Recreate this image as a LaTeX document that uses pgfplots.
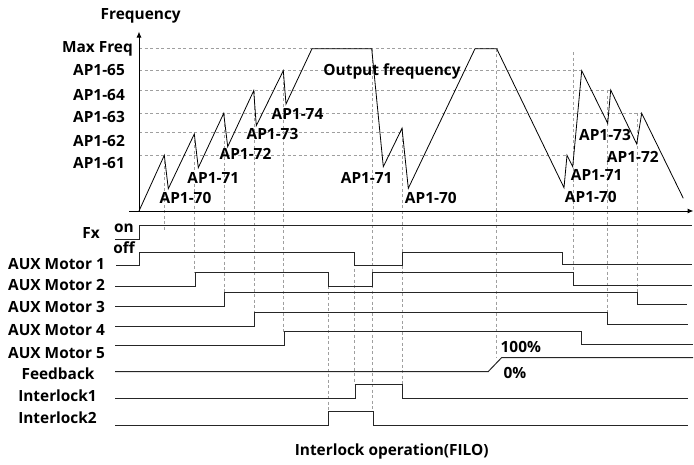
\documentclass[border=0pt]{standalone}
\usepackage{pgfplots}
\pgfplotsset{compat=1.18}
\usepackage{fontspec}
\setmainfont{Open Sans}
\usetikzlibrary{arrows.meta}

\tikzset{
  lbl/.style={font=\bfseries\fontsize{15.4}{15.4}\selectfont, inner sep=0pt, text height=0.71em, text depth=0pt},
}

\begin{document}
\begin{tikzpicture}
\begin{axis}[
  scale only axis, width=694pt, height=464pt,
  xmin=0, xmax=694, ymin=0, ymax=464, y dir=reverse,
  hide axis, clip=false,
  grd/.style={gray!75, line width=0.6pt, dash pattern=on 3pt off 2.5pt},
  sig/.style={black!85, line width=1pt},
]
% horizontal guide lines of the frequency levels
\addplot[grd] coordinates {(139,48.7) (496.7,48.7)};
\addplot[grd] coordinates {(139,70.7) (581.7,70.7)};
\addplot[grd] coordinates {(139,90) (610.7,90)};
\addplot[grd] coordinates {(139,113.3) (641.7,113.3)};
\addplot[grd] coordinates {(139,132.7) (402,132.7)};
\addplot[grd] coordinates {(139,155.3) (567,155.3)};

% vertical guide lines
\addplot[grd] coordinates {(164.3,155.3) (164.3,230)};
\addplot[grd] coordinates {(194.3,134) (194.3,272)};
\addplot[grd] coordinates {(224,113.3) (224,292.3)};
\addplot[grd] coordinates {(254,90.7) (254,312.7)};
\addplot[grd] coordinates {(283.7,70.7) (283.7,331.7)};
\addplot[grd] coordinates {(328.3,286) (328.3,411)};
\addplot[grd] coordinates {(354,252) (354,384)};
\addplot[grd] coordinates {(372.3,48.7) (372.3,411)};
\addplot[grd] coordinates {(402,128.3) (402,384)};
\addplot[grd] coordinates {(496.7,48.7) (496.7,357)};
\addplot[grd] coordinates {(573.3,52) (573.3,285)};
\addplot[grd] coordinates {(607.7,90) (607.7,324)};
\addplot[grd] coordinates {(637.3,113) (637.3,304)};

% axes
\addplot[black, line width=1pt, -{Latex[length=6pt,width=5pt]}] coordinates {(129,211) (693.5,211)};
\addplot[black, line width=1pt, -{Latex[length=6pt,width=5pt]}] coordinates {(139,211) (139,31.5)};

% output frequency
\addplot[black, line width=0.8pt] coordinates {
(139,211) (164.3,155.3) (168.3,188.7) (194.3,134) (198.3,167.7) (223.7,113.3)
(227.7,146.7) (253.7,90.7) (256.3,125.7) (283.3,70.7) (286,104) (312,48.7)
(371.7,48.7) (383.3,166.7) (402,128.3) (408.3,188.3) (475,48.7) (496.7,48.7)
(564,187.7) (567,155.3) (572.7,166.7) (581.7,70.7) (607.7,123.3) (610.7,90)
(636.7,144) (641.7,113.3) (683.3,198.3)};

% timing signals
\addplot[sig] coordinates {(115,239) (139.3,239) (139.3,225) (692,225)};
\addplot[sig] coordinates {(116,265.7) (139.3,265.7) (139.3,252) (354,252) (354,265) (402,265) (402,252) (562.7,252) (562.7,264) (691.7,264)};
\addplot[sig] coordinates {(115,286) (195,286) (195,272) (328.3,272) (328.3,286) (372.7,286) (372.7,272) (573.3,272) (573.3,285) (691.7,285)};
\addplot[sig] coordinates {(115,306.7) (224.3,306.7) (224.3,292.3) (637.3,292.3) (637.3,304.3) (686.7,304.3)};
\addplot[sig] coordinates {(115,326.7) (254.3,326.7) (254.3,312.7) (607.7,312.7) (607.7,324.3) (688.3,324.3)};
\addplot[sig] coordinates {(115,345.7) (284,345.7) (284,331.7) (581.7,331.7) (581.7,344) (693,344)};
\addplot[sig] coordinates {(115,371.5) (488.3,371.5) (501.7,357.5) (693,357.5)};
\addplot[sig] coordinates {(115,398.3) (355,398.3) (355,384.3) (402.7,384.3) (402.7,398.3) (688.3,398.3)};
\addplot[sig] coordinates {(115,425) (328.3,425) (328.3,411) (373.3,411) (373.3,425) (688,425)};

% frequency axis labels
\node[lbl] at (axis cs:140.7,15.8) {Frequency};
\node[lbl, anchor=east] at (axis cs:133,49.3) {Max Freq};
\node[lbl, anchor=east] at (axis cs:125,71.7) {AP1-65};
\node[lbl, anchor=east] at (axis cs:125,96.7) {AP1-64};
\node[lbl, anchor=east] at (axis cs:125,119) {AP1-63};
\node[lbl, anchor=east] at (axis cs:125,142.7) {AP1-62};
\node[lbl, anchor=east] at (axis cs:125,165) {AP1-61};

% waveform annotations
\node[lbl] at (axis cs:185.5,200) {AP1-70};
\node[lbl] at (axis cs:213.3,180) {AP1-71};
\node[lbl] at (axis cs:245.5,156) {AP1-72};
\node[lbl] at (axis cs:272.5,136) {AP1-73};
\node[lbl] at (axis cs:297.5,116) {AP1-74};
\node[lbl] at (axis cs:392,71.7) {Output frequency};
\node[lbl] at (axis cs:366.7,180) {AP1-71};
\node[lbl] at (axis cs:430.8,200) {AP1-70};
\node[lbl] at (axis cs:605,137.3) {AP1-73};
\node[lbl] at (axis cs:632.8,159.3) {AP1-72};
\node[lbl] at (axis cs:596.7,177.3) {AP1-71};
\node[lbl] at (axis cs:590.8,199.3) {AP1-70};

% signal labels
\node[lbl, anchor=east] at (axis cs:100,235) {Fx};
\node[lbl] at (axis cs:124,229) {on};
\node[lbl] at (axis cs:124,250) {off};
\node[lbl, anchor=east] at (axis cs:105,265.5) {AUX Motor 1};
\node[lbl, anchor=east] at (axis cs:105,287.2) {AUX Motor 2};
\node[lbl, anchor=east] at (axis cs:105,308.7) {AUX Motor 3};
\node[lbl, anchor=east] at (axis cs:105,332) {AUX Motor 4};
\node[lbl, anchor=east] at (axis cs:105,354.7) {AUX Motor 5};
\node[lbl] at (axis cs:58,375.8) {Feedback};
\node[lbl] at (axis cs:57.5,398.3) {Interlock1};
\node[lbl] at (axis cs:57.5,420) {Interlock2};
\node[lbl] at (axis cs:520.8,349) {100\%};
\node[lbl] at (axis cs:515,375) {0\%};
\node[lbl] at (axis cs:391.7,452) {Interlock operation(FILO)};
\end{axis}
\pgfresetboundingbox
\path[use as bounding box] (0,0) rectangle (694pt,464pt);
\end{tikzpicture}
\end{document}
